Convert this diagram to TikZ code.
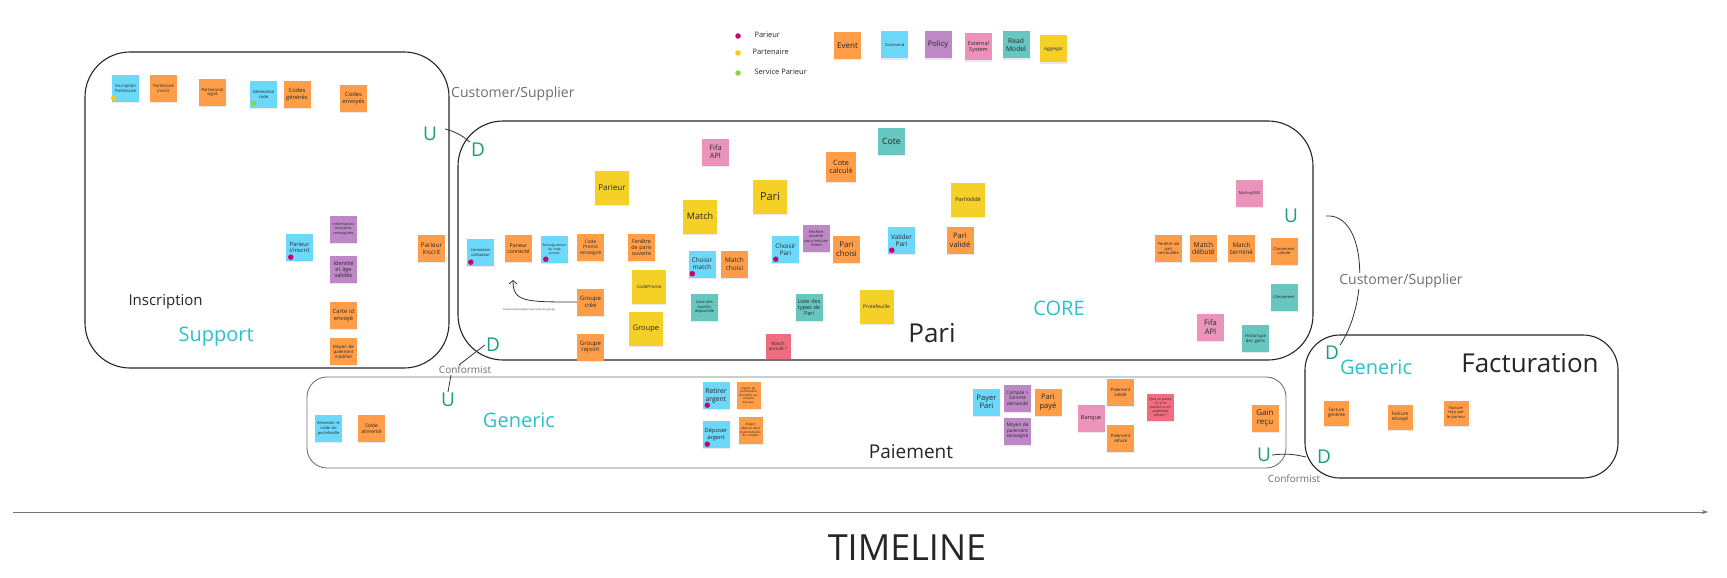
\documentclass[tikz,border=0pt]{standalone}
\usepackage{fontspec}
\setmainfont{Open Sans}
\usepackage{xcolor}
\usetikzlibrary{arrows.meta, shadows}

\definecolor{evOrange}{RGB}{255,157,72}
\definecolor{cmdBlue}{RGB}{108,216,250}
\definecolor{polPurple}{RGB}{190,136,199}
\definecolor{extPink}{RGB}{234,148,187}
\definecolor{rmTeal}{RGB}{103,198,192}
\definecolor{aggYellow}{RGB}{245,209,40}
\definecolor{hotRed}{RGB}{241,108,127}
\definecolor{dotMagenta}{RGB}{204,0,102}
\definecolor{dotYellow}{RGB}{250,199,16}
\definecolor{dotGreen}{RGB}{143,209,79}
\definecolor{udGreen}{RGB}{26,158,122}
\definecolor{ctxCyan}{RGB}{43,193,201}
\definecolor{relGray}{RGB}{110,110,110}

\begin{document}
\begin{tikzpicture}[
    x=1pt, y=-1pt,
    every node/.style={text=black!85},
    fs/.style={font={\linespread{1.15}\fontsize{#1}{#1}\selectfont}},
    sticky/.style={rectangle, minimum width=27pt, minimum height=27pt, inner sep=1pt, text width=25pt, align=center,
        drop shadow={shadow xshift=0.2pt, shadow yshift=-1.3pt, opacity=0.18}},
    event/.style={sticky, fill=evOrange},
    command/.style={sticky, fill=cmdBlue},
    policy/.style={sticky, fill=polPurple},
    extsys/.style={sticky, fill=extPink},
    readmodel/.style={sticky, fill=rmTeal},
    hotspot/.style={sticky, fill=hotRed},
    aggregat/.style={sticky, fill=aggYellow, minimum width=34pt, minimum height=34pt, text width=32pt},
    smallnote/.style={minimum width=25pt, minimum height=25pt, text width=23pt},
    dot/.style={circle, inner sep=0pt, minimum size=5.5pt},
    actor/.style={dot, fill=dotMagenta, xshift=4pt, yshift=4pt},
    udlabel/.style={text=udGreen, fs=19, inner sep=1pt},
    rel/.style={text=relGray, fs=14, inner sep=1pt},
    ctxname/.style={text=ctxCyan, fs=20},
    context/.style={draw=black!85, line width=1.1pt, rounded corners=45pt},
    link/.style={draw=black!80, line width=0.8pt}
]

\fill[white] (0,0) rectangle (1727,578);
\useasboundingbox (0,0) rectangle (1727,578);

% legend
\node[dot, fill=dotMagenta] (legDotParieur) at (738,36) {};
\node[dot, fill=dotYellow] (legDotPartenaire) at (738,53) {};
\node[dot, fill=dotGreen] (legDotService) at (738,73) {};
\node[fs=7.5, anchor=west] (legParieur) at (751,35) {Parieur};
\node[fs=7.5, anchor=west] (legPartenaire) at (749,52) {Partenaire};
\node[fs=7.5, anchor=west] (legService) at (751,72) {Service Parieur};
\node[event, fs=8] (legEvent) at (847.5,45.5) {Event};
\node[command, fs=4] (legCommand) at (894.5,45) {Command};
\node[policy, fs=7.5] (legPolicy) at (938,45) {Policy};
\node[extsys, fs=5.5] (legExternal) at (978.5,47) {External\\System};
\node[readmodel, fs=6.7] (legReadModel) at (1016,45) {Read\\Model};
\node[sticky, fill=aggYellow, fs=4.5] (legAggregat) at (1053.5,49) {Aggregat};

% bounded contexts
\draw[context] (85,52) rectangle (449,368);
\draw[context] (458,121) rectangle (1313,360);
\draw[context, draw=black!55, line width=0.9pt, rounded corners=20pt] (307,377) rectangle (1286,468);
\draw[context, rounded corners=35pt] (1305,335) rectangle (1618,478);

% inscription
\node[command, fs=4.3] (inscPartenaire) at (125.5,88.5) {Inscription\\Partenaire};
\node[dot, fill=dotYellow, xshift=2pt, yshift=4pt] (dotInscPart) at (inscPartenaire.south west) {};
\node[event, fs=4.3] (partInscrit) at (163.5,88.5) {Partenaire\\inscrit};
\node[event, fs=4.2] (partSigne) at (212.5,92.5) {Partenariat\\signé};
\node[command, fs=4.2] (genCode) at (263.5,94.5) {Génération\\code};
\node[dot, fill=dotGreen, xshift=4pt, yshift=5pt] (dotGenCode) at (genCode.south west) {};
\node[event, fs=5.8] (codesGeneres) at (297,94.5) {Codes\\générés};
\node[event, fs=5.8] (codesEnvoyes) at (353.5,98.5) {Codes\\envoyés};
\node[command, fs=5.8] (parieurSInscrit) at (299.5,247.5) {Parieur\\s'inscrit};
\node[actor, xshift=1pt] (dotSInscrit) at (parieurSInscrit.south west) {};
\node[policy, fs=3.6] (infoBancaires) at (343.5,229) {Informations\\bancaires\\renseignées};
\node[policy, fs=5.5] (identiteValide) at (343.5,269.5) {Identité\\et âge\\validés};
\node[event, fs=5.8] (carteId) at (343.5,315.5) {Carte id\\envoyé};
\node[event, fs=4.5] (moyenModifier) at (343.5,351.5) {Moyen de\\paiement\\modifier};
\node[event, fs=6.3] (parieurInscrit) at (431.5,248.5) {Parieur\\inscrit};
\node[fs=15, anchor=west] (inscriptionLbl) at (125,302) {Inscription};
\node[ctxname, anchor=west] (supportLbl) at (175,337) {Support};

% pari
\node[command, fs=4] (connexion) at (480.5,252.5) {Connexion\\utilisateur};
\node[actor] (dotConnexion) at (connexion.south west) {};
\node[event, fs=5.2] (parieurConnecte) at (518.5,248.5) {Parieur\\connecté};
\node[command, fs=3.3] (renseignement) at (554.5,249.5) {Renseignement\\du code\\promo};
\node[actor, xshift=1pt] (dotRenseignement) at (renseignement.south west) {};
\node[event, fs=4.7] (codePromoRens) at (590.5,247.5) {Code\\Promo\\renseigné};
\node[event, fs=5.3] (fenetreOuverte) at (641.5,247.5) {Fenêtre\\de paris\\ouverte};
\node[aggregat, fs=8] (parieurAgg) at (612,188) {Parieur};
\node[aggregat, fs=4.5] (codePromoAgg) at (649,286.5) {CodePromo};
\node[aggregat, fs=7.5] (groupeAgg) at (646,329) {Groupe};
\node[event, fs=6] (groupeCree) at (590.5,302) {Groupe\\crée};
\node[event, fs=6] (groupeRejoint) at (590.5,347) {Groupe\\rejoint};
\coordinate (lienRetour) at (513,280);
\node[fs=2.5] (lienLbl) at (529,310) {Connexion/Inscription avec le lien du groupe};
\node[aggregat, fs=9] (matchAgg) at (700,216.5) {Match};
\node[command, fs=6.3] (choisirMatch) at (702,264) {Choisir\\match};
\node[actor] (dotChoisirMatch) at (choisirMatch.south west) {};
\node[event, fs=6.5] (matchChoisi) at (734.5,264) {Match\\choisi};
\node[readmodel, fs=4] (listeMatchs) at (704.5,307) {Liste des\\matchs\\disponible};
\node[extsys, fs=7.3] (fifaApiA) at (715.5,152) {Fifa\\API};
\node[aggregat, fs=11] (pariAgg) at (770,196.5) {Pari};
\node[command, fs=6.3] (choisirPari) at (785.5,249.5) {Choisir\\Pari};
\node[actor] (dotChoisirPari) at (choisirPari.south west) {};
\node[policy, fs=4] (fenetreDixMin) at (816,238.5) {Fenêtre\\ouverte\\pour encore\\10min};
\node[event, fs=7.8] (pariChoisi) at (846.5,249) {Pari\\choisi};
\node[readmodel, fs=5.5] (listeTypes) at (809,307.5) {Liste des\\types de\\Pari};
\node[hotspot, fs=4.6, smallnote] (matchAnnule) at (778,346.5) {Match\\annulé ?};
\node[readmodel, fs=8.7] (cote) at (891.5,141) {Cote};
\node[event, fs=7.3, minimum width=30pt, minimum height=30pt] (coteCalcule) at (841,167) {Cote\\calculé};
\node[command, fs=6.5] (validerPari) at (901.5,240.5) {Valider\\Pari};
\node[actor] (dotValiderPari) at (validerPari.south west) {};
\node[aggregat, fs=5] (portefeuilleAgg) at (876.5,307) {Protefeuille};
\node[aggregat, fs=5.5] (pariValideAgg) at (968,199.5) {PariValidé};
\node[event, fs=7.5] (pariValide) at (960,240.5) {Pari\\validé};
\node[extsys, fs=4] (mailingSms) at (1249.5,193) {MailingSMS};
\node[event, fs=4.2] (fenetreVerrou) at (1168.5,248.5) {Fenêtre de\\pari\\verrouillée};
\node[event, fs=6.8] (matchDebute) at (1203.5,248.5) {Match\\débuté};
\node[event, fs=6.2] (matchTermine) at (1241.5,248.5) {Match\\terminé};
\node[event, fs=4] (classCalcule) at (1284,251) {Classement\\calculé};
\node[readmodel, fs=4] (classement) at (1284,297) {Classement};
\node[extsys, fs=7.6] (fifaApiB) at (1210.5,327) {Fifa\\API};
\node[readmodel, fs=4.3] (historique) at (1255.5,338.5) {Historique\\des gains};
\node[fs=26] (pariLbl) at (932,333) {Pari};
\node[ctxname] (coreLbl) at (1059,308) {CORE};

% paiement
\node[command, fs=4] (alimenter) at (328.5,428.5) {Alimenter le\\solde du\\portefeuille};
\node[event, fs=5] (soldeAlimente) at (371.5,428.5) {Solde\\alimenté};
\node[ctxname] (genericPaie) at (519,420) {Generic};
\node[command, fs=6.8] (retirer) at (716,395.5) {Retirer\\argent};
\node[actor, xshift=1pt] (dotRetirer) at (retirer.south west) {};
\node[event, fs=3.1, minimum width=24pt, text width=22pt] (argentTransfere) at (748.5,395.5) {argent du\\portefeuille\\transféré sur\\compte\\banque};
\node[command, fs=5.7] (deposer) at (716,434.5) {Déposer\\argent};
\node[actor, xshift=1pt] (dotDeposer) at (deposer.south west) {};
\node[event, fs=3.2, minimum width=24pt, text width=22pt] (argentDepose) at (750.5,430.5) {Argent\\déposé dans\\le portefeuille\\du compte};
\node[command, fs=7.5] (payerPari) at (986.5,402) {Payer\\Pari};
\node[policy, fs=4.8] (compteSomme) at (1017.5,398) {Compte >\\Somme\\demandé};
\node[policy, fs=4.7] (moyenRenseigne) at (1017.5,431) {Moyen de\\paiement\\renseigné};
\node[event, fs=7.5] (pariPaye) at (1048,402) {Pari\\payé};
\node[extsys, fs=5.6] (banque) at (1091,418.5) {Banque};
\node[event, fs=4.5] (paiementValide) at (1120.5,392) {Paiement\\validé};
\node[event, fs=4.5] (paiementRefuse) at (1120.5,438.5) {Paiement\\refusé};
\node[hotspot, fs=3.5] (questionRefus) at (1160.5,407.5) {Que se passe\\t'il si le\\parieur a un\\paiement\\refusé ?};
\node[event, fs=8] (gainRecu) at (1265,418) {Gain\\reçu};
\node[fs=19] (paiementLbl) at (911,452) {Paiement};

% facturation
\node[event, smallnote, fs=4.6] (factGeneree) at (1336.5,413) {Facture\\générée};
\node[event, smallnote, fs=4.8] (factEnvoye) at (1400,417) {Facture\\envoyé};
\node[event, smallnote, fs=4] (factRecue) at (1456,413) {Facture\\reçu par\\le parieur};
\node[ctxname] (genericFact) at (1376,367) {Generic};
\node[fs=26] (facturationLbl) at (1530,363) {Facturation};

% relations
\node[udlabel] (uSupport) at (430,134) {U};
\node[udlabel] (dPariTop) at (478,150) {D};
\node[udlabel] (dPariBot) at (493,345) {D};
\node[udlabel] (uPaie) at (448,400) {U};
\node[udlabel] (uPari) at (1291,216) {U};
\node[udlabel] (dFactTop) at (1332,353) {D};
\node[udlabel] (uPaieFact) at (1264,455) {U};
\node[udlabel] (dFactBot) at (1324,457) {D};
\node[rel, anchor=west] (custSupLeft) at (450,94) {Customer/Supplier};
\node[rel, fs=10] (conformistA) at (465,370) {Conformist};
\node[rel, fs=10] (conformistB) at (1294,479) {Conformist};

\draw[link] ([xshift=7pt,yshift=-3pt]uSupport.north east) to[bend left=12] (dPariTop.north west);
\draw[link] (dPariBot.west) -- ([xshift=-6pt]conformistA.north);
\draw[link] ([xshift=-14pt]conformistA.south) -- (uPaie.north);
\draw[link] ([xshift=27pt]uPari.east) .. controls (1366,213) and (1370,300) .. (dFactTop.north east);
\node[rel, fill=white] (custSupRight) at (1401,281) {Customer/Supplier};
\draw[link] (uPaieFact.east) to[bend left=10] ([xshift=-10pt]dFactBot.west);
\draw[link, -{Straight Barb[length=3.5pt, width=8pt]}] (groupeCree.west) .. controls (525,302) and (513,302) .. (lienRetour);

% timeline
\coordinate (tlStart) at (13,512);
\coordinate (tlEnd) at (1708,512);
\draw[black!55, line width=0.8pt, -{Stealth[length=6pt, width=4pt]}] (tlStart) -- (tlEnd);
\node[fs=36] (timelineLbl) at (907,548) {TIMELINE};

\end{tikzpicture}
\end{document}
